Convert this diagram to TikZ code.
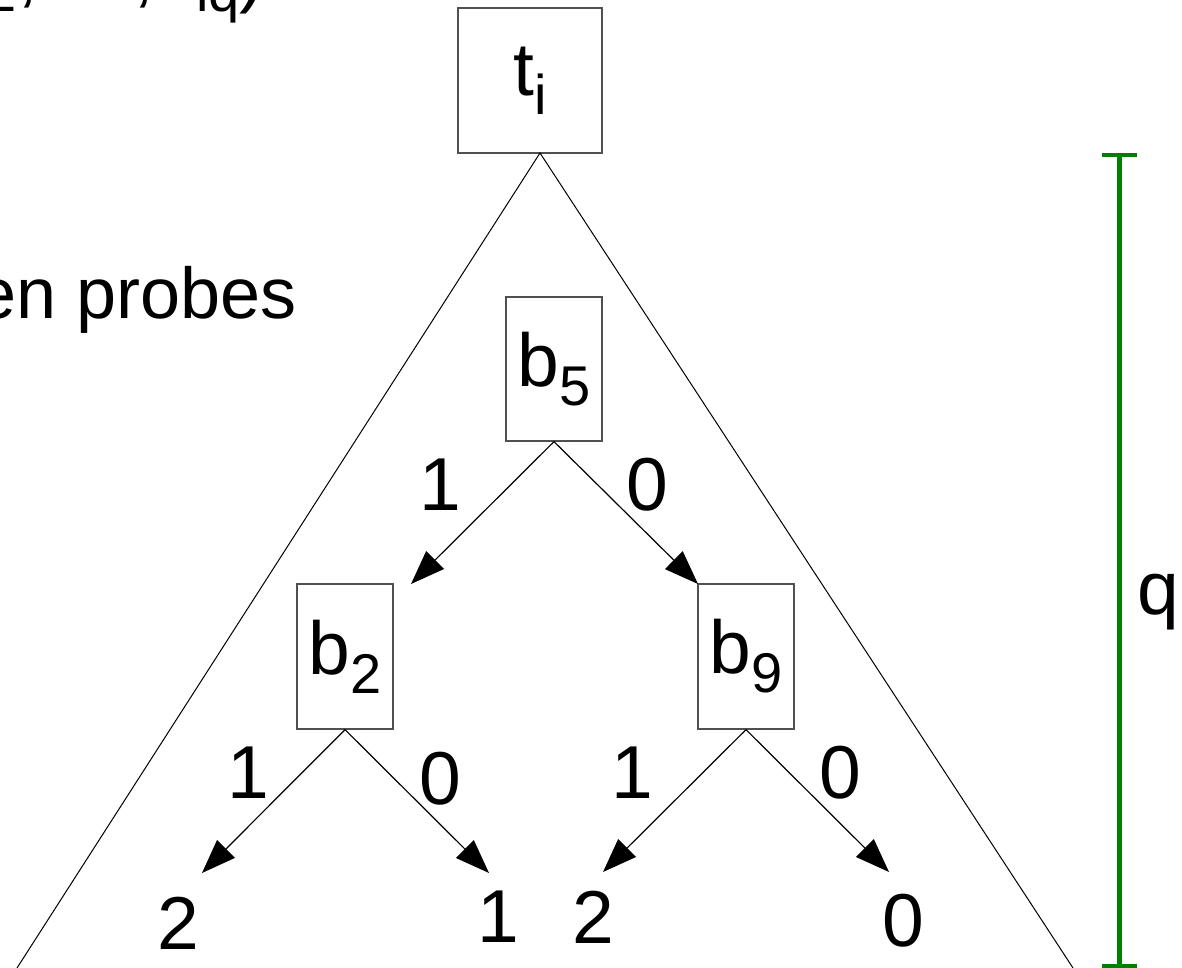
\documentclass[tikz,border=0pt]{standalone}
\usepackage{fontspec}
\setmainfont{Liberation Sans}
\usetikzlibrary{arrows.meta}
\definecolor{bracketgreen}{RGB}{0,128,0}
\definecolor{boxgray}{RGB}{80,80,80}
\newcommand\lowsub[2][19pt]{\raisebox{-#1}{\fontsize{56}{60}\selectfont #2}}
\tikzset{
  every node/.style={font=\fontsize{75}{90}\selectfont},
  probebox/.style={draw=boxgray, line width=1.3pt, inner sep=0pt, minimum width=96pt, minimum height=145pt},
  edgelabel/.style={inner sep=0pt},
  leaf/.style={inner sep=0pt},
  branch/.style={draw=black, line width=1.2pt, -{Triangle[length=34pt,width=25pt]}},
  hull/.style={draw=black, line width=1pt},
  qbar/.style={draw=bracketgreen, line width=5.5pt},
  qcap/.style={draw=bracketgreen, line width=4pt},
}
\begin{document}
\begin{tikzpicture}[x=1pt,y=-1pt]
\useasboundingbox (0,0) rectangle (1182,968);
% cropped texts
\node[anchor=base east, inner sep=0pt] (tuple) at (265,-1) {(t\lowsub[13pt]{i1}, t\lowsub[13pt]{i2}, \raisebox{25pt}{…}, t\lowsub[13pt]{iq})};
\node[anchor=base east, inner sep=0pt, font=\fontsize{72}{86}\selectfont] (probes) at (297,318) {Chosen probes};
% top node and hull
\node[probebox, minimum width=144pt, minimum height=145pt] (ti) at (530,80.5) {t\lowsub{i}};
\coordinate (apex) at (540,153);
\coordinate (hullL) at (17,968);
\coordinate (hullR) at (1073,968);
\draw[hull] (hullL) -- (apex) -- (hullR);
% probe nodes
\node[probebox, minimum height=144pt] (b5) at (554,369) {b\lowsub{5}};
\node[probebox] (b2) at (345,656.5) {b\lowsub{2}};
\node[probebox] (b9) at (746,656.5) {b\lowsub{9}};
% arrow ends
\coordinate (e5L) at (411,584);
\coordinate (e5R) at (698,584);
\coordinate (e2L) at (202,873);
\coordinate (e2R) at (489,873);
\coordinate (e9L) at (603,872);
\coordinate (e9R) at (889,872);
\draw[branch] (b5.south) -- (e5L);
\draw[branch] (b5.south) -- (e5R);
\draw[branch] (b2.south) -- (e2L);
\draw[branch] (b2.south) -- (e2R);
\draw[branch] (b9.south) -- (e9L);
\draw[branch] (b9.south) -- (e9R);
% edge labels
\node[edgelabel] (l5a) at (440,485) {1};
\node[edgelabel] (l5b) at (647,485) {0};
\node[edgelabel] (l2a) at (248,773) {1};
\node[edgelabel] (l2b) at (440,779) {0};
\node[edgelabel] (l9a) at (632,773) {1};
\node[edgelabel] (l9b) at (840,773) {0};
% leaves
\node[leaf] (leafA) at (178,923) {2};
\node[leaf] (leafB) at (498,917) {1};
\node[leaf] (leafC) at (593,917) {2};
\node[leaf] (leafD) at (903,921) {0};
% q bracket
\coordinate (qtop) at (1119.5,155);
\coordinate (qbot) at (1119.5,966);
\coordinate (qtopL) at (1102,155);
\coordinate (qtopR) at (1137,155);
\coordinate (qbotL) at (1102,966);
\coordinate (qbotR) at (1137,966);
\draw[qbar] (qtop) -- (qbot);
\draw[qcap] (qtopL) -- (qtopR);
\draw[qcap] (qbotL) -- (qbotR);
\node[anchor=base west, inner sep=0pt] (qlabel) at (1137,614) {q};
\end{tikzpicture}
\end{document}
